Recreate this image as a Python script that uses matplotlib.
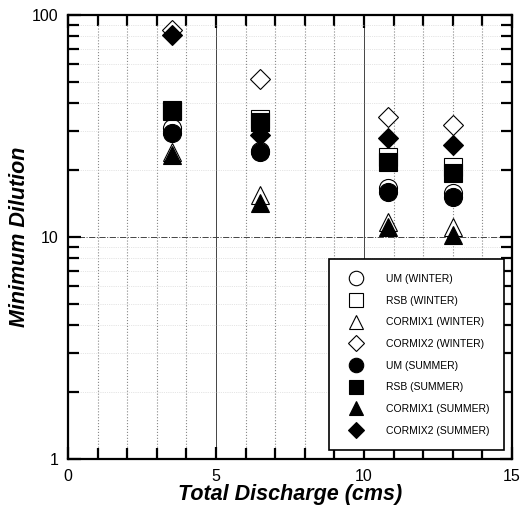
import matplotlib
matplotlib.use("Agg")
import matplotlib.pyplot as plt
from matplotlib.ticker import LogLocator, NullFormatter, MultipleLocator

plt.rcParams["font.family"] = ["Liberation Sans", "DejaVu Sans"]

# total discharge (cms) for the four cases
discharge = [3.5, 6.5, 10.8, 13.0]

# minimum dilution, winter
um_winter = [31, 24.5, 16.6, 15.8]
rsb_winter = [37, 34, 22.9, 20.7]
cormix1_winter = [24.1, 15.5, 11.7, 11.1]
cormix2_winter = [85.6, 51.5, 34.7, 32]

# minimum dilution, summer
um_summer = [29.4, 24.1, 15.9, 15.1]
rsb_summer = [37.3, 33, 21.8, 19.4]
cormix1_summer = [23.4, 14.2, 11.1, 10.2]
cormix2_summer = [81, 28.8, 27.9, 26]

fig = plt.figure(figsize=(5.27, 5.16), dpi=100)
ax = fig.add_axes([0.129, 0.1105, 0.8425, 0.8605])

series = [
    (um_winter, "o", 13, "white", "UM (WINTER)"),
    (rsb_winter, "s", 12.5, "white", "RSB (WINTER)"),
    (cormix1_winter, "^", 13, "white", "CORMIX1 (WINTER)"),
    (cormix2_winter, "D", 10, "white", "CORMIX2 (WINTER)"),
    (um_summer, "o", 13, "black", "UM (SUMMER)"),
    (rsb_summer, "s", 12.5, "black", "RSB (SUMMER)"),
    (cormix1_summer, "^", 13, "black", "CORMIX1 (SUMMER)"),
    (cormix2_summer, "D", 10, "black", "CORMIX2 (SUMMER)"),
]
for vals, mk, ms, fc, lab in series:
    ax.plot(discharge, vals, linestyle="none", marker=mk, markersize=ms,
            markerfacecolor=fc, markeredgecolor="black", markeredgewidth=0.8,
            label=lab, zorder=3)

ax.set_yscale("log")
ax.set_xlim(0, 15)
ax.set_ylim(1, 100)

ax.xaxis.set_major_locator(MultipleLocator(5))
ax.xaxis.set_minor_locator(MultipleLocator(1))
ax.yaxis.set_major_locator(LogLocator(base=10))
ax.yaxis.set_minor_locator(LogLocator(base=10, subs=range(2, 10)))
ax.yaxis.set_minor_formatter(NullFormatter())
ax.set_yticks([1, 10, 100])
ax.set_yticklabels(["1", "10", "100"])

ax.tick_params(which="both", direction="in", top=True, right=True,
               width=1.6, labelsize=11.5, pad=7)
ax.tick_params(which="major", length=9)
ax.tick_params(which="minor", length=8)
for s in ax.spines.values():
    s.set_linewidth(1.6)

ax.grid(True, which="major", axis="x", color="#444444", linestyle="-", linewidth=0.7)
ax.grid(True, which="minor", axis="x", color="#888888", linestyle=":", linewidth=0.8)
ax.grid(True, which="major", axis="y", color="#444444", linestyle="-.", linewidth=0.7)
ax.grid(True, which="minor", axis="y", color="#cccccc", linestyle=":", linewidth=0.5)

ax.set_xlabel("Total Discharge (cms)", fontsize=15.5, fontweight="bold",
              fontstyle="italic", labelpad=0)
ax.set_ylabel("Minimum Dilution", fontsize=15.5, fontweight="bold",
              fontstyle="italic", labelpad=1)

leg = ax.legend(loc="lower right", bbox_to_anchor=(0.982, 0.02), borderaxespad=0,
                fontsize=7.5, labelspacing=1.12, handletextpad=1.67, borderpad=1.4,
                handlelength=2.4, fancybox=False, framealpha=1, markerscale=0.8)
leg.get_frame().set_edgecolor("black")
leg.get_frame().set_linewidth(1.2)
leg.set_zorder(5)

fig.savefig("out.png", dpi=100)
